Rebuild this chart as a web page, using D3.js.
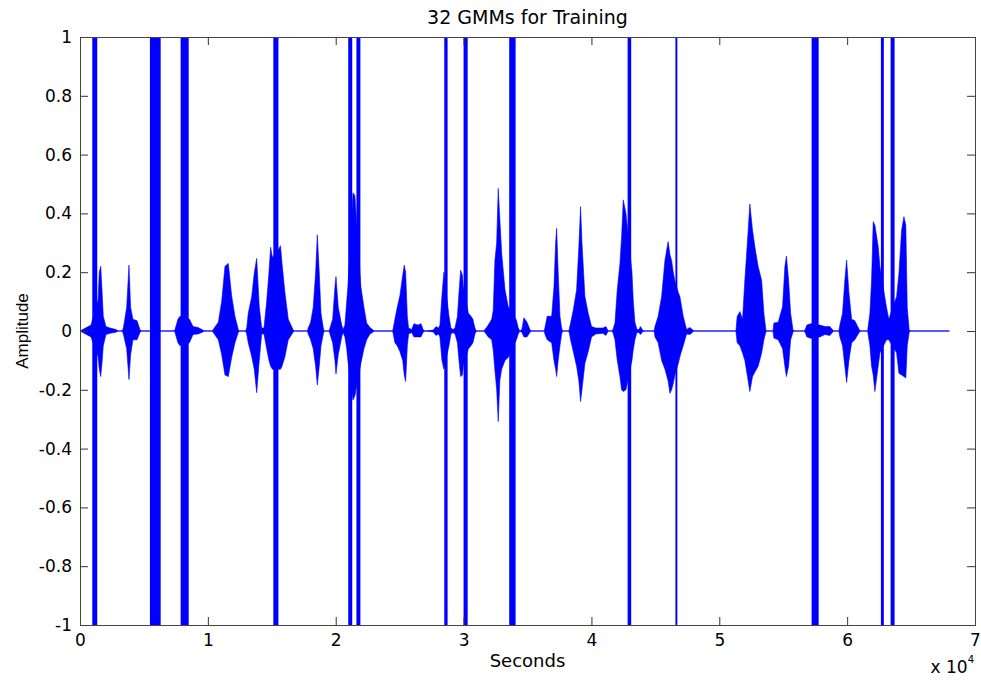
<!DOCTYPE html>
<html>
<head>
<meta charset="utf-8">
<script src="https://cdn.jsdelivr.net/npm/d3@7"></script>
<style>
  body { margin: 0; background: #fff; }
  text { font-family: "DejaVu Sans", sans-serif; fill: #000; }
</style>
</head>
<body>
<div id="chart"></div>
<script>
const chartTitle = '32 GMMs for Training'
const xLabel = 'Seconds'
const yLabel = 'Amplitude'
const xTicks = [0, 10000, 20000, 30000, 40000, 50000, 60000, 70000]
const xTickLabels = ['0', '1', '2', '3', '4', '5', '6', '7']
const yTicks = [-1, -0.8, -0.6, -0.4, -0.2, 0, 0.2, 0.4, 0.6, 0.8, 1]
const yTickLabels = ['-1', '-0.8', '-0.6', '-0.4', '-0.2', '0', '0.2', '0.4', '0.6', '0.8', '1']
const signalEnd = 68000

// clipped stretches of the signal, [start sample, end sample], full scale -1..1
const clipped = [
  [960, 1350], [5470, 6310], [7870, 8500], [15120, 15520], [20980, 21290],
  [21620, 21930], [28490, 28750], [30000, 30320], [33570, 34070], [42830, 43110],
  [46570, 46720], [57220, 57770], [62640, 62870], [63400, 63710]
]

// waveform envelope: [sample, max, min]
const envelope = [
  [0, 0, 0], [860, 0.02, -0.02], [1410, 0.105, -0.087], [1510, 0.2, -0.13], [1620, 0.22, -0.155],
  [1720, 0.14, -0.11], [1820, 0.05, -0.05], [2030, 0.015, -0.012], [2350, 0.01, -0.008],
  [2820, 0.005, -0.004], [2970, 0, 0],
  [3300, 0, 0], [3390, 0.01, -0.01], [3650, 0.08, -0.06], [3830, 0.224, -0.165], [3960, 0.08, -0.08],
  [4140, 0.04, -0.03], [4460, 0.035, -0.03], [4690, 0.005, -0.005], [4800, 0, 0],
  [7350, 0, 0], [7430, 0.005, -0.005], [7660, 0.04, -0.04], [7820, 0.05, -0.05], [8560, 0.04, -0.04],
  [8840, 0.015, -0.012], [9230, 0.012, -0.01], [9620, 0.003, -0.003], [9700, 0, 0],
  [10350, 0, 0], [10420, 0.005, -0.005], [10820, 0.03, -0.03], [11080, 0.1, -0.08], [11340, 0.22, -0.15],
  [11600, 0.23, -0.155], [11860, 0.12, -0.09], [12120, 0.05, -0.04], [12380, 0.005, -0.005], [12450, 0, 0],
  [12950, 0, 0], [13040, 0.01, -0.01], [13160, 0.06, -0.04], [13430, 0.117, -0.087], [13630, 0.197, -0.13],
  [13820, 0.247, -0.21], [14020, 0.083, -0.1], [14210, 0.01, -0.01], [14390, 0.01, -0.01],
  [14600, 0.1, -0.06], [14780, 0.2, -0.1], [14910, 0.285, -0.12], [15050, 0.25, -0.13],
  [15560, 0.28, -0.13], [15680, 0.29, -0.13], [15800, 0.23, -0.12], [16030, 0.13, -0.087],
  [16290, 0.04, -0.03], [16660, 0.005, -0.005], [16750, 0, 0],
  [17780, 0, 0], [17850, 0.01, -0.01], [18040, 0.03, -0.03], [18240, 0.08, -0.06], [18430, 0.2, -0.12],
  [18560, 0.327, -0.184], [18710, 0.2, -0.12], [18850, 0.06, -0.05], [19030, 0.01, -0.01], [19100, 0, 0],
  [19480, 0, 0], [19550, 0.01, -0.01], [19760, 0.04, -0.04], [19940, 0.15, -0.1], [20020, 0.185, -0.146],
  [20200, 0.08, -0.08], [20470, 0.02, -0.02], [20570, 0.005, -0.005],
  [20720, 0.02, -0.02], [20860, 0.1, -0.06], [20950, 0.15, -0.1], [21350, 0.47, -0.235], [21500, 0.46, -0.22],
  [21970, 0.15, -0.11], [22210, 0.08, -0.06], [22420, 0.027, -0.03], [22680, 0.012, -0.01],
  [22940, 0.003, -0.003], [23000, 0, 0],
  [24450, 0, 0], [24500, 0.01, -0.01], [24630, 0.04, -0.04], [24810, 0.08, -0.05], [25020, 0.12, -0.07],
  [25240, 0.19, -0.1], [25360, 0.224, -0.15], [25470, 0.2, -0.172], [25600, 0.05, -0.05], [25700, 0.01, -0.01],
  [25940, 0.005, -0.005], [26120, 0.025, -0.02], [26430, 0.02, -0.02], [26670, 0.025, -0.02],
  [26850, 0.003, -0.003], [27000, 0, 0],
  [27630, 0.003, -0.003], [27840, 0.015, -0.015], [28040, 0.01, -0.01], [28150, 0.02, -0.02],
  [28310, 0.12, -0.1], [28460, 0.2, -0.13], [28860, 0.05, -0.05], [29010, 0.01, -0.01], [29170, 0.005, -0.005],
  [29330, 0.01, -0.01], [29520, 0.05, -0.04], [29640, 0.13, -0.1], [29770, 0.207, -0.155], [29910, 0.19, -0.15],
  [29980, 0.15, -0.12], [30380, 0.06, -0.06], [30580, 0.05, -0.05], [30730, 0.04, -0.04],
  [30890, 0.01, -0.01], [31000, 0, 0],
  [31600, 0, 0], [31670, 0.005, -0.005], [31930, 0.02, -0.02], [32200, 0.04, -0.03], [32320, 0.07, -0.065],
  [32450, 0.24, -0.133], [32590, 0.3, -0.2], [32710, 0.485, -0.308], [32840, 0.378, -0.167],
  [32980, 0.265, -0.13], [33240, 0.14, -0.1], [33490, 0.083, -0.09], [34130, 0.037, -0.03],
  [34280, 0.01, -0.01], [34400, 0, 0],
  [34560, 0.005, -0.005], [34720, 0.045, -0.02], [34960, 0.03, -0.02], [35190, 0.005, -0.005], [35300, 0, 0],
  [36300, 0, 0], [36360, 0.01, -0.01], [36540, 0.05, -0.03], [36890, 0.05, -0.04], [37070, 0.15, -0.1],
  [37200, 0.3, -0.13], [37280, 0.349, -0.155], [37400, 0.2, -0.1], [37540, 0.05, -0.05],
  [37670, 0.01, -0.01], [37750, 0, 0],
  [38200, 0, 0], [38260, 0.005, -0.005], [38370, 0.027, -0.03], [38580, 0.071, -0.07], [38840, 0.14, -0.12],
  [39020, 0.29, -0.17], [39150, 0.423, -0.24], [39260, 0.3, -0.2], [39490, 0.117, -0.11],
  [39750, 0.06, -0.07], [40010, 0.015, -0.02], [40350, 0.01, -0.01], [40900, 0.01, -0.008],
  [41130, 0.015, -0.015], [41290, 0.002, -0.002], [41350, 0, 0],
  [41600, 0, 0], [41680, 0.005, -0.005], [41840, 0.027, -0.03], [42020, 0.14, -0.1], [42230, 0.23, -0.155],
  [42360, 0.32, -0.2], [42490, 0.446, -0.206], [42700, 0.4, -0.2], [43170, 0.2, -0.1],
  [43270, 0.105, -0.065], [43400, 0.03, -0.03], [43560, 0.005, -0.005], [43710, 0.005, -0.005],
  [43830, 0.015, -0.012], [44030, 0.002, -0.002], [44100, 0, 0],
  [44900, 0, 0], [44970, 0.015, -0.02], [45220, 0.05, -0.04], [45490, 0.117, -0.1], [45750, 0.241, -0.13],
  [46000, 0.304, -0.17], [46140, 0.26, -0.212], [46270, 0.24, -0.2], [46400, 0.2, -0.178],
  [46530, 0.17, -0.15], [46800, 0.13, -0.11], [46920, 0.117, -0.087], [47180, 0.05, -0.05],
  [47440, 0.005, -0.01], [47700, 0.012, -0.012], [47940, 0.003, -0.003], [48000, 0, 0],
  [51300, 0, 0], [51400, 0.049, -0.04], [51610, 0.066, -0.05], [51820, 0.04, -0.075], [52000, 0.173, -0.1],
  [52120, 0.25, -0.133], [52260, 0.343, -0.17], [52390, 0.432, -0.206], [52600, 0.343, -0.155],
  [52780, 0.287, -0.14], [53040, 0.219, -0.12], [53310, 0.173, -0.075], [53490, 0.06, -0.03],
  [53650, 0.002, -0.002], [53750, 0, 0],
  [54200, 0, 0], [54270, 0.027, -0.024], [54610, 0.03, -0.03], [54950, 0.083, -0.06], [55130, 0.219, -0.12],
  [55250, 0.255, -0.155], [55420, 0.173, -0.12], [55580, 0.06, -0.03], [55760, 0.005, -0.005], [55850, 0, 0],
  [56600, 0, 0], [56700, 0.003, -0.003], [56850, 0.02, -0.02], [57160, 0.025, -0.025], [57870, 0.02, -0.02],
  [58260, 0.015, -0.012], [58650, 0.015, -0.015], [58880, 0.003, -0.003], [58950, 0, 0],
  [59350, 0, 0], [59430, 0.02, -0.02], [59640, 0.06, -0.05], [59820, 0.173, -0.12], [59960, 0.241, -0.175],
  [60140, 0.13, -0.1], [60350, 0.04, -0.04], [60600, 0.035, -0.03], [60940, 0.005, -0.005], [61050, 0, 0],
  [61600, 0, 0], [61780, 0.06, -0.05], [61910, 0.173, -0.12], [62040, 0.372, -0.15], [62170, 0.36, -0.206],
  [62430, 0.287, -0.12], [62560, 0.22, -0.075], [63080, 0.08, -0.03], [63260, 0.04, -0.03],
  [63870, 0.117, -0.075], [64050, 0.196, -0.144], [64260, 0.343, -0.15], [64440, 0.389, -0.155],
  [64590, 0.36, -0.16], [64700, 0.08, -0.05], [64850, 0.005, -0.005], [64950, 0, 0],
  [68000, 0, 0]
]

var margin = { 'top': 37, 'right': 6, 'bottom': 55, 'left': 80 };
var width = 981 - margin.left - margin.right;
var height = 680 - margin.top - margin.bottom;

var svg = d3.select('#chart').append('svg')
            .attr('width', 981)
            .attr('height', 680)
var g = svg.append('g').attr('transform', `translate(${margin.left},${margin.top})`)

var x = d3.scaleLinear().domain([0, 70000]).range([0, width])
var y = d3.scaleLinear().domain([-1, 1]).range([height, 0])

// zero line under the signal
g.append('line')
  .attr('x1', x(0)).attr('x2', x(signalEnd))
  .attr('y1', y(0)).attr('y2', y(0))
  .style('stroke', '#6a6aff')
  .style('stroke-width', 1)

var area = d3.area()
  .x(d => x(d[0]))
  .y0(d => y(d[2]))
  .y1(d => y(d[1]))

g.append('path')
  .datum(envelope)
  .attr('d', area)
  .attr('fill', '#0000ff')
  .attr('stroke', '#0000ff')
  .attr('stroke-width', 0.6)

g.selectAll('.clip-bar')
  .data(clipped)
  .enter()
  .append('rect')
  .attr('class', 'clip-bar')
  .attr('x', d => x(d[0]))
  .attr('width', d => x(d[1]) - x(d[0]))
  .attr('y', y(1))
  .attr('height', y(-1) - y(1))
  .attr('fill', '#0000ff')

// axes, ticks pointing inward on all four sides
var tickLen = 8
g.append('g')
  .attr('transform', `translate(0,${height})`)
  .call(d3.axisBottom(x).tickValues(xTicks).tickSize(-tickLen).tickPadding(9)
        .tickFormat((d, i) => xTickLabels[i]))
  .call(a => a.select('.domain').remove())
g.append('g')
  .call(d3.axisTop(x).tickValues(xTicks).tickSize(-tickLen).tickFormat(''))
  .call(a => a.select('.domain').remove())
g.append('g')
  .call(d3.axisLeft(y).tickValues(yTicks).tickSize(-tickLen).tickPadding(8)
        .tickFormat((d, i) => yTickLabels[i]))
  .call(a => a.select('.domain').remove())
g.append('g')
  .attr('transform', `translate(${width},0)`)
  .call(d3.axisRight(y).tickValues(yTicks).tickSize(-tickLen).tickFormat(''))
  .call(a => a.select('.domain').remove())

g.selectAll('.tick line').style('stroke', '#333')
g.selectAll('.tick text')
  .style('font-size', '17px')
  .style('font-family', '"DejaVu Sans", sans-serif')
  .attr('fill', '#000')

g.append('rect')
  .attr('x', 0.5).attr('y', 0.5)
  .attr('width', width).attr('height', height)
  .attr('fill', 'none')
  .style('stroke', '#444')
  .style('stroke-width', 1)

svg.append('text')
  .attr('x', margin.left + width / 2)
  .attr('y', 24)
  .attr('text-anchor', 'middle')
  .style('font-size', '19px')
  .text(chartTitle)

svg.append('text')
  .attr('x', margin.left + width / 2)
  .attr('y', 667)
  .attr('text-anchor', 'middle')
  .style('font-size', '18px')
  .text(xLabel)

svg.append('text')
  .attr('transform', `translate(28,${margin.top + height / 2}) rotate(-90)`)
  .attr('text-anchor', 'middle')
  .style('font-family', '"Liberation Sans", Arial, sans-serif')
  .style('font-size', '17px')
  .text(yLabel)

var exp = svg.append('text')
  .attr('x', 974)
  .attr('y', 673)
  .attr('text-anchor', 'end')
  .style('font-size', '17px')
exp.append('tspan').text('x 10')
exp.append('tspan').attr('dy', -10).style('font-size', '10px').text('4')
</script>
</body>
</html>
